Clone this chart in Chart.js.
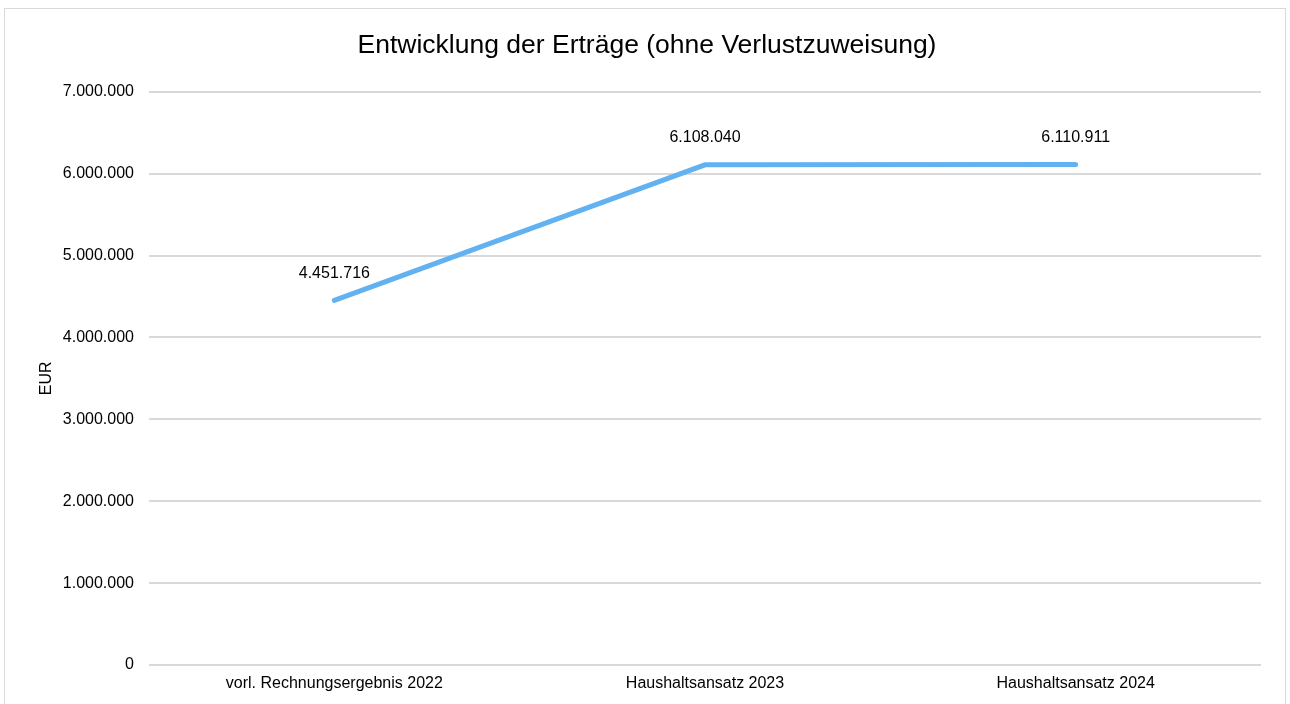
<!DOCTYPE html>
<html>
<head>
<meta charset="utf-8">
<script src="https://cdn.jsdelivr.net/npm/chart.js@4"></script>
<style>
  html, body { margin: 0; padding: 0; background: #fff; overflow: hidden; }
  #frame { position: absolute; left: 4px; top: 8px; width: 1282px; height: 740px; border: 1px solid #d9d9d9; box-sizing: border-box; }
  #wrap { position: absolute; left: 0; top: 0; width: 1290px; height: 704px; }
</style>
</head>
<body>
<div id="frame"></div>
<div id="wrap"><canvas id="ertragChart" width="1290" height="704"></canvas></div>
<script>
// Daten
const labels = ['vorl. Rechnungsergebnis 2022', 'Haushaltsansatz 2023', 'Haushaltsansatz 2024'];
const ertraege = [4451716, 6108040, 6110911];
const yMax = 7000000;
const yStep = 1000000;

const fontFamily = '"Liberation Sans", Arial, sans-serif';

// Zahlen im deutschen Format (Tausenderpunkt)
function formatDE(v) {
    return String(Math.round(v)).replace(/\B(?=(\d{3})+(?!\d))/g, '.');
}

// Werte über die Punkte schreiben
const valueLabels = {
    id: 'valueLabels',
    afterDatasetsDraw(chart) {
        const ctx = chart.ctx;
        const meta = chart.getDatasetMeta(0);
        ctx.save();
        ctx.font = '16px ' + fontFamily;
        ctx.fillStyle = '#000';
        ctx.textAlign = 'center';
        ctx.textBaseline = 'middle';
        meta.data.forEach((pt, i) => {
            ctx.fillText(formatDE(chart.data.datasets[0].data[i]), pt.x, pt.y - 27);
        });
        ctx.restore();
    }
};

const ctx = document.getElementById('ertragChart').getContext('2d');
const ertragChart = new Chart(ctx, {
    type: 'line',
    data: {
        labels: labels,
        datasets: [{
            label: 'Erträge',
            data: ertraege,
            borderColor: '#62b2f2',
            borderWidth: 5,
            borderCapStyle: 'round',
            borderJoinStyle: 'miter',
            pointRadius: 0,
            tension: 0,
            fill: false
        }]
    },
    options: {
        responsive: false,
        animation: false,
        layout: {
            padding: { left: 33, right: 29, top: 0, bottom: 0 }
        },
        scales: {
            x: {
                offset: true,
                grid: { display: false, drawTicks: false },
                border: { display: false },
                ticks: {
                    color: '#000',
                    padding: 9,
                    maxRotation: 0,
                    font: { size: 16, family: fontFamily }
                },
                afterFit(scale) { scale.height = 39; }
            },
            y: {
                min: 0,
                max: yMax,
                ticks: {
                    stepSize: yStep,
                    color: '#000',
                    padding: 15,
                    font: { size: 16, family: fontFamily },
                    callback: v => formatDE(v)
                },
                grid: { color: '#d9d9d9', lineWidth: 2, drawTicks: false },
                border: { display: false },
                title: {
                    display: true,
                    text: 'EUR',
                    color: '#000',
                    padding: { top: 4, bottom: 0 },
                    font: { size: 16, family: fontFamily }
                },
                afterFit(scale) { scale.width = 116; }
            }
        },
        plugins: {
            legend: { display: false },
            tooltip: { enabled: false },
            title: {
                display: true,
                text: 'Entwicklung der Erträge (ohne Verlustzuweisung)',
                color: '#000',
                font: { size: 26.5, weight: 'normal', family: fontFamily },
                padding: { top: 30, bottom: 30 }
            }
        }
    },
    plugins: [valueLabels]
});
</script>
</body>
</html>
